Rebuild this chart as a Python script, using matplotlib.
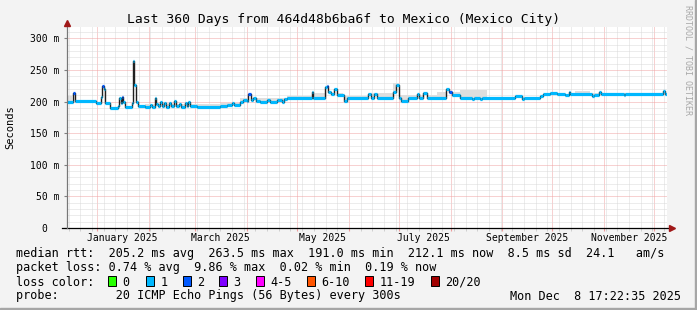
import numpy as np
import matplotlib
matplotlib.use("Agg")
import matplotlib.pyplot as plt
import matplotlib.dates as mdates
from matplotlib.patches import Rectangle
from datetime import datetime

# median rtt (ms) as steps: start day (from 2024-12-13 17:22), value, lost pings
med_day = [0, 3.7, 5.1, 17.7, 20.5, 21.1, 22.3, 23.1, 26.1, 31.1, 31.7, 32.5, 33.3, 34.1,
           35.1, 39.1, 40.1, 40.7, 41.7, 43.1, 47.1, 50, 51, 53.1, 53.8, 55, 56, 57, 58.5,
           59.5, 61.5, 62.5, 64.5, 65.5, 67.5, 68.5, 71, 72, 73.1, 74, 78, 92, 96, 99.5,
           100.5, 104, 106, 108, 109, 110.5, 112, 113.5, 116, 120, 122, 126, 129, 130.5,
           132, 147, 147.8, 155, 156, 157, 158.5, 160.4, 162.4, 166.5, 168, 181, 182.5,
           184.5, 186, 196, 197.5, 199.5, 200.5, 205, 210, 211.5, 214, 216, 227.5, 229.5,
           231, 236, 243, 244, 248, 249, 268.9, 272.9, 274, 283.9, 285.5, 290, 294, 299,
           301, 302, 315, 316, 319.5, 320.5, 334, 335, 357.9, 359]
med_val = [200, 214, 201, 197, 207, 225, 219, 197, 190, 193, 205, 197, 207, 199,
           192, 197, 263.5, 226, 199, 193, 192, 195, 192, 205, 196, 193, 200, 193, 197,
           192, 197, 193, 201, 193, 196, 192, 197, 193, 199, 193, 191, 193, 194, 197,
           194, 199, 203, 201, 212, 203, 206, 201, 200, 202, 200, 202, 199, 204,
           206, 215, 206, 223, 225, 215, 212, 219, 210, 201, 206, 212, 206,
           212, 206, 215, 226, 205, 201, 206, 212, 206, 213, 206, 219, 215,
           210, 206, 204, 206, 204, 206, 208, 204, 206, 209, 212.6, 214, 212.6, 210,
           215, 212.6, 208, 211, 215, 212.6, 211, 212.5, 216, 212.1]
med_loss = [1, 2, 1, 1, 1, 2, 1, 1, 1, 1, 1, 1, 2, 1,
            1, 1, 1, 1, 1, 1, 1, 1, 1, 1, 1, 1, 1, 1, 1,
            1, 1, 1, 1, 1, 1, 1, 1, 1, 1, 1, 1, 1, 1, 1,
            1, 1, 1, 1, 2, 1, 1, 1, 1, 1, 1, 1, 1, 1,
            1, 1, 1, 1, 2, 1, 1, 1, 1, 1, 1, 1, 1,
            1, 1, 1, 1, 1, 1, 1, 1, 1, 1, 1, 1, 2,
            1, 1, 1, 1, 1, 1, 1, 1, 1, 1, 1, 1, 1, 1,
            1, 1, 1, 1, 1, 1, 1, 1, 1, 1]

# upper edge of the smoke (ms)
smoke_day = [0, 3, 47, 92, 104, 132, 147, 166, 181, 196, 200, 222, 236, 252, 305, 314, 360]
smoke_top = [208, 0, 196, 197, 206, 209, 214, 208, 214, 230, 211, 215, 218, 207, 217, 213.5, 213.5]

loss_labels = ["0", "1", "2", "3", "4-5", "6-10", "11-19", "20/20"]
loss_colors = ["#26ff00", "#00b8ff", "#0059ff", "#7e00ff", "#ff00ff", "#ff5500", "#ff0000", "#a10000"]

W, H = 697, 310
MONO = "DejaVu Sans Mono"
t0 = mdates.date2num(datetime(2024, 12, 13, 17, 22, 35))

fig = plt.figure(figsize=(W / 100, H / 100), dpi=100, facecolor="#f3f3f3")
ax = fig.add_axes([66.5 / W, 1 - 228 / H, (667 - 66.5) / W, (228 - 27) / H])
ax.set_facecolor("white")

# smoke
d = np.array(med_day + [360])
v = np.array(med_val)
for i in range(len(smoke_day) - 1):
    a, b = smoke_day[i], smoke_day[i + 1]
    if smoke_top[i] <= 0:
        continue
    for j in range(len(med_day)):
        lo, hi = max(a, d[j]), min(b, d[j + 1])
        if hi > lo and smoke_top[i] > v[j]:
            ax.fill_between([t0 + lo, t0 + hi], v[j], smoke_top[i], color="#dedede", lw=0, zorder=2)

# median: thin dark step line, then loss-colored bars
x_edges = t0 + d
ax.step(x_edges, med_val + [med_val[-1]], where="post", color="#202020", lw=1.0, zorder=3)
ax.hlines(med_val, x_edges[:-1], x_edges[1:], colors=[loss_colors[l] for l in med_loss],
          lw=2.3, zorder=4)

ax.set_xlim(t0, t0 + 360)
ax.set_ylim(0, 317.8)

# grid
ax.xaxis.set_major_locator(mdates.MonthLocator())
ax.xaxis.set_minor_locator(mdates.WeekdayLocator(byweekday=mdates.SU))
ax.xaxis.set_major_formatter(plt.NullFormatter())
ax.set_yticks(np.arange(0, 301, 50))
ax.set_yticks(np.arange(0, 311, 10), minor=True)
ax.set_yticklabels(["0  "] + [f"{v} m" for v in range(50, 301, 50)], family=MONO, fontsize=7)
ax.grid(which="minor", color="#dadada", lw=0.72, ls=(0, (1, 1)), zorder=1)
ax.grid(which="major", color="#f0a4a4", lw=0.72, ls=(0, (1, 1)), zorder=1)
ax.set_axisbelow(True)
ax.tick_params(axis="x", which="major", length=2, color="#ef9a9a")
ax.tick_params(axis="x", which="minor", length=2, color="#c8c8c8")
ax.tick_params(axis="y", which="major", length=2, color="#808080", pad=3)
ax.tick_params(axis="y", which="minor", length=0)
for s in ax.spines.values():
    s.set_visible(False)

# axes with arrows
ax.plot([-0.008, 1.003], [0, 0], color="black", lw=0.9, transform=ax.transAxes, clip_on=False, zorder=6)
ax.plot([1.008], [0], marker=">", ms=4, color="#a01818", transform=ax.transAxes, clip_on=False, zorder=6)
ax.plot([0, 0], [0, 1.01], color="#777777", lw=0.9, transform=ax.transAxes, clip_on=False, zorder=6)
ax.plot([0], [1.022], marker="^", ms=4, color="#a01818", transform=ax.transAxes, clip_on=False, zorder=6)

# month labels in the middle of every other month
for m, name in [(1, "January 2025"), (3, "March 2025"), (5, "May 2025"),
                (7, "July 2025"), (9, "September 2025"), (11, "November 2025")]:
    ax.text(mdates.date2num(datetime(2025, m, 16)), -10 / 201, name, family=MONO, fontsize=7,
            ha="center", va="center", transform=ax.get_xaxis_transform())

fig.text(344 / W, 1 - 19 / H, "Last 360 Days from 464d48b6ba6f to Mexico (Mexico City)",
         family=MONO, fontsize=9.4, ha="center", va="center")
fig.text(10 / W, 1 - 127 / H, "Seconds", family=MONO, fontsize=7.5, rotation=90,
         ha="center", va="center")
fig.text(688 / W, 1 - 60 / H, "RRDTOOL / TOBI OETIKER", family=MONO, fontsize=6,
         rotation=270, ha="center", va="center", color="#a8a8a8")

# legend
fs = 8.5
fig.text(15.5 / W, 1 - 254 / H,
         "median rtt:  205.2 ms avg  263.5 ms max  191.0 ms min  212.1 ms now  8.5 ms sd  24.1   am/s",
         family=MONO, fontsize=fs, va="center")
fig.text(15.5 / W, 1 - 268 / H, "packet loss: 0.74 % avg  9.86 % max  0.02 % min  0.19 % now",
         family=MONO, fontsize=fs, va="center")
fig.text(15.5 / W, 1 - 282 / H, "loss color:", family=MONO, fontsize=fs, va="center")
box_x = [108, 146, 183, 219, 256, 307, 365, 431]
for bx, lab, col in zip(box_x, loss_labels, loss_colors):
    fig.patches.append(Rectangle((bx / W, 1 - 286 / H), 7.5 / W, 10 / H, transform=fig.transFigure,
                                 facecolor=col, edgecolor="black", lw=0.7))
    fig.text((bx + 14.5) / W, 1 - 282 / H, lab, family=MONO, fontsize=fs, va="center")
fig.text(15.5 / W, 1 - 296 / H, "probe:        20 ICMP Echo Pings (56 Bytes) every 300s",
         family=MONO, fontsize=fs, va="center")
fig.text(681 / W, 1 - 296 / H, "Mon Dec  8 17:22:35 2025", family=MONO, fontsize=fs,
         va="center", ha="right")

# image frame shadow
fig.patches.append(Rectangle((695 / W, 0), 2 / W, 1, transform=fig.transFigure, color="#a6a6a6"))
fig.patches.append(Rectangle((0, 0), 1, 2 / H, transform=fig.transFigure, color="#a6a6a6"))

fig.savefig("out.png", dpi=100, facecolor=fig.get_facecolor())
